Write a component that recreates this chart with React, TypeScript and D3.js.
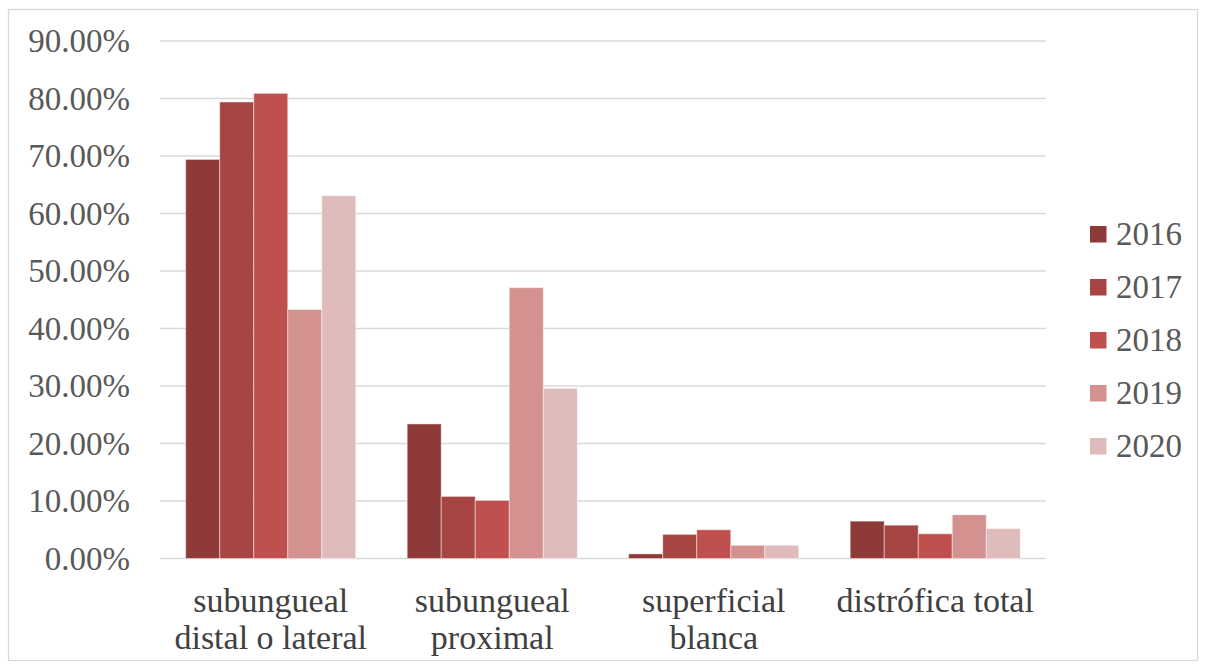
import React from "react";
import * as d3 from "d3";

// Onychomycosis clinical types by year (share of cases)
const categories: string[][] = [
  ["subungueal", "distal o lateral"],
  ["subungueal", "proximal"],
  ["superficial", "blanca"],
  ["distrófica total"],
];
const years = ["2016", "2017", "2018", "2019", "2020"];
const values2016 = [0.694, 0.234, 0.008, 0.065];
const values2017 = [0.794, 0.108, 0.042, 0.058];
const values2018 = [0.809, 0.101, 0.05, 0.043];
const values2019 = [0.433, 0.471, 0.023, 0.076];
const values2020 = [0.631, 0.296, 0.023, 0.052];
const series = [values2016, values2017, values2018, values2019, values2020];
const yTicks = [0, 0.1, 0.2, 0.3, 0.4, 0.5, 0.6, 0.7, 0.8, 0.9];
const colors = ["#8E3A38", "#A74543", "#C0504D", "#D39190", "#E0BBBB"];

const W = 1206;
const H = 666;
const plot = { left: 160, right: 1046, top: 41, bottom: 558.5 };
const FONT = "'Liberation Serif', 'DejaVu Serif', serif";

export default function App() {
  const catKeys = categories.map((c) => c.join(" "));
  const x0 = d3.scaleBand<string>().domain(catKeys).range([plot.left, plot.right]).padding(0);
  const groupW = x0.bandwidth() * 0.768;
  const x1 = d3.scaleBand<string>().domain(years).range([0, groupW]).padding(0);
  const y = d3.scaleLinear().domain([0, 0.9]).range([plot.bottom, plot.top]);
  const fmt = d3.format(".2%");

  return (
    <svg
      width={W}
      height={H}
      style={{ position: "absolute", left: 0, top: 0, background: "#fff" }}
      fontFamily={FONT}
    >
      <rect x={8.5} y={9.5} width={1189} height={651} fill="#fff" stroke="#D9D9D9" strokeWidth={1.3} />

      {yTicks.map((t) => (
        <g key={t}>
          <line x1={plot.left} x2={plot.right} y1={y(t)} y2={y(t)} stroke="#D9D9D9" strokeWidth={1.4} />
          <text
            x={130}
            y={y(t)}
            textAnchor="end"
            dominantBaseline="central"
            fontSize={33}
            fill="#595959"
          >
            {fmt(t)}
          </text>
        </g>
      ))}

      {catKeys.map((ck, ci) => {
        const gx = (x0(ck) as number) + (x0.bandwidth() - groupW) / 2;
        return (
          <g key={ck}>
            {years.map((yr, si) => {
              const v = series[si][ci];
              return (
                <rect
                  key={yr}
                  x={gx + (x1(yr) as number)}
                  y={y(v)}
                  width={x1.bandwidth()}
                  height={y(0) - y(v)}
                  fill={colors[si]}
                  stroke="rgba(255,255,255,0.45)"
                  strokeWidth={1}
                />
              );
            })}
          </g>
        );
      })}

      {categories.map((lines, ci) => {
        const cx = (x0(catKeys[ci]) as number) + x0.bandwidth() / 2;
        return (
          <g key={ci}>
            {lines.map((ln, li) => (
              <text
                key={li}
                x={cx}
                y={600 + li * 37}
                textAnchor="middle"
                dominantBaseline="central"
                fontSize={34}
                fill="#404040"
              >
                {ln}
              </text>
            ))}
          </g>
        );
      })}

      {years.map((yr, si) => {
        const cy = 234 + si * 53;
        return (
          <g key={yr}>
            <rect x={1090} y={cy - 8} width={16.5} height={16.5} fill={colors[si]} />
            <text x={1116} y={cy} dominantBaseline="central" fontSize={33} fill="#595959">
              {yr}
            </text>
          </g>
        );
      })}
    </svg>
  );
}
